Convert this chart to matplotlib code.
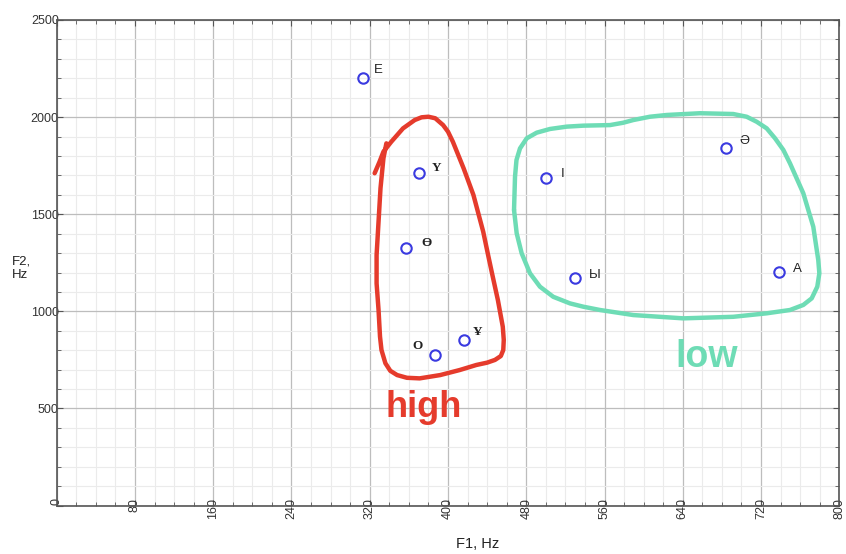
import numpy as np
import matplotlib.pyplot as plt
from matplotlib.ticker import MultipleLocator

# vowel formants (F1, F2 in Hz)
vowels = ['Е', 'Ү', 'Ө', 'О', 'Ұ', 'І', 'Ы', 'Ә', 'А']
f1 = [313, 370, 357, 387, 416, 500, 530, 684, 738]
f2 = [2200, 1710, 1328, 777, 854, 1685, 1174, 1842, 1203]
serif = [False, True, True, True, True, False, False, False, False]
# label offsets in pixels from the point
lab_dx = [15, 18, 21, -18, 14, 17, 20, 19, 19]
lab_dy = [8, 5, 5, 9, 8, 4, 3, 7, 3]

# hand-drawn outline around the "high" group
high_f1 = [325, 330, 334, 342, 354, 366, 373, 380, 387, 395, 400, 405, 416,
           426, 436, 441, 445, 451, 456, 457, 456.5, 454, 448, 440, 429, 412,
           392, 371, 358, 348, 341, 336, 332, 330.5, 329, 327, 327, 329, 331,
           334, 337]
high_f2 = [1711, 1770, 1822, 1873, 1942, 1985, 1999, 2002, 1994, 1959, 1925,
           1873, 1736, 1599, 1410, 1290, 1196, 1058, 921, 853, 801, 770, 750,
           736, 724, 698, 672, 655, 658, 672, 694, 733, 801, 870, 1007, 1144,
           1290, 1462, 1634, 1788, 1865]

# hand-drawn outline around the "low" group
low_f1 = [467.5, 468.5, 470, 473.6, 480.5, 490.7, 504.3, 521.3, 538.3, 565.6,
          579, 589.4, 606.4, 623.6, 657.6, 691.6, 705.3, 715.6, 725.8, 734.3,
          742.8, 749.6, 763.2, 773.4, 778.5, 779.6, 777.5, 771.8, 763.2, 749.6,
          725.8, 691.6, 640.5, 589.4, 555.4, 538.3, 524.7, 507.6, 494, 483.8,
          475.3, 470.2, 467.5]
low_f2 = [1522, 1693, 1779, 1839, 1891, 1920, 1939, 1951, 1956, 1959, 1971,
          1985, 2002, 2011, 2020, 2016, 2002, 1976, 1942, 1891, 1831, 1762,
          1608, 1436, 1264, 1196, 1127, 1067, 1033, 1007, 990, 972, 964, 981,
          1007, 1024, 1041, 1075, 1127, 1196, 1299, 1402, 1522]

fig = plt.figure(figsize=(8.46, 5.54), dpi=100)
ax = fig.add_axes([56.7 / 846, 48.4 / 554, 782.6 / 846, 485.6 / 554])

ax.set_xlim(0, 800)
ax.set_ylim(0, 2500)
ax.xaxis.set_major_locator(MultipleLocator(80))
ax.xaxis.set_minor_locator(MultipleLocator(20))
ax.set_yticks(np.arange(0, 2501, 500), [''] + [str(v) for v in range(500, 2501, 500)])
ax.yaxis.set_minor_locator(MultipleLocator(100))

ax.grid(which='major', color='#bdbdbd', lw=0.9)
ax.grid(which='minor', color='#ebebeb', lw=0.8)
ax.set_axisbelow(True)

for sp in ax.spines.values():
    sp.set_color('#555555')
    sp.set_linewidth(1.2)

ax.tick_params(which='both', direction='in', top=True, right=True,
               color='#555555', labelcolor='#333333', labelsize=9)
ax.tick_params(which='major', length=4)
ax.tick_params(which='minor', length=3)
ax.tick_params(axis='x', pad=-5.5, labelrotation=90)
ax.tick_params(axis='y', pad=-1.5)
for t in ax.get_xticklabels() + ax.get_yticklabels():
    t.set_fontfamily('Liberation Sans')

ax.plot(f1, f2, 'o', mfc='none', mec='#3a3ae0', ms=7.5, mew=1.5, ls='none')
for name, x, y, s, dx, dy in zip(vowels, f1, f2, serif, lab_dx, lab_dy):
    fam = ['Liberation Serif', 'DejaVu Serif'] if s else ['Liberation Sans', 'DejaVu Sans']
    ax.annotate(name, (x, y), xytext=(dx, dy), textcoords='offset pixels',
                ha='center', va='center', fontsize=9.5, family=fam,
                fontweight='bold' if s else 'normal', color='#222222')

ax.plot(high_f1, high_f2, color='#e53b2c', lw=3.2, solid_joinstyle='round',
        solid_capstyle='round')
ax.plot(low_f1, low_f2, color='#6edcb5', lw=3.2, solid_joinstyle='round',
        solid_capstyle='round')

ax.text(375, 456, 'high', color='#e53b2c', fontsize=26, fontweight='bold',
        family='Liberation Sans', ha='center', va='baseline')
ax.text(664, 715, 'low', color='#6edcb5', fontsize=27, fontweight='bold',
        family='Liberation Sans', ha='center', va='baseline')

fig.text(478 / 846, 1 - 544 / 554, 'F1, Hz', ha='center', va='center',
         fontsize=10.5, family='Liberation Sans', color='#222222')
fig.text(12 / 846, 1 - 268 / 554, 'F2,\nHz', ha='left', va='center',
         fontsize=9.5, family='Liberation Sans', color='#222222', linespacing=1.2)

fig.savefig('out.png', dpi=100)
